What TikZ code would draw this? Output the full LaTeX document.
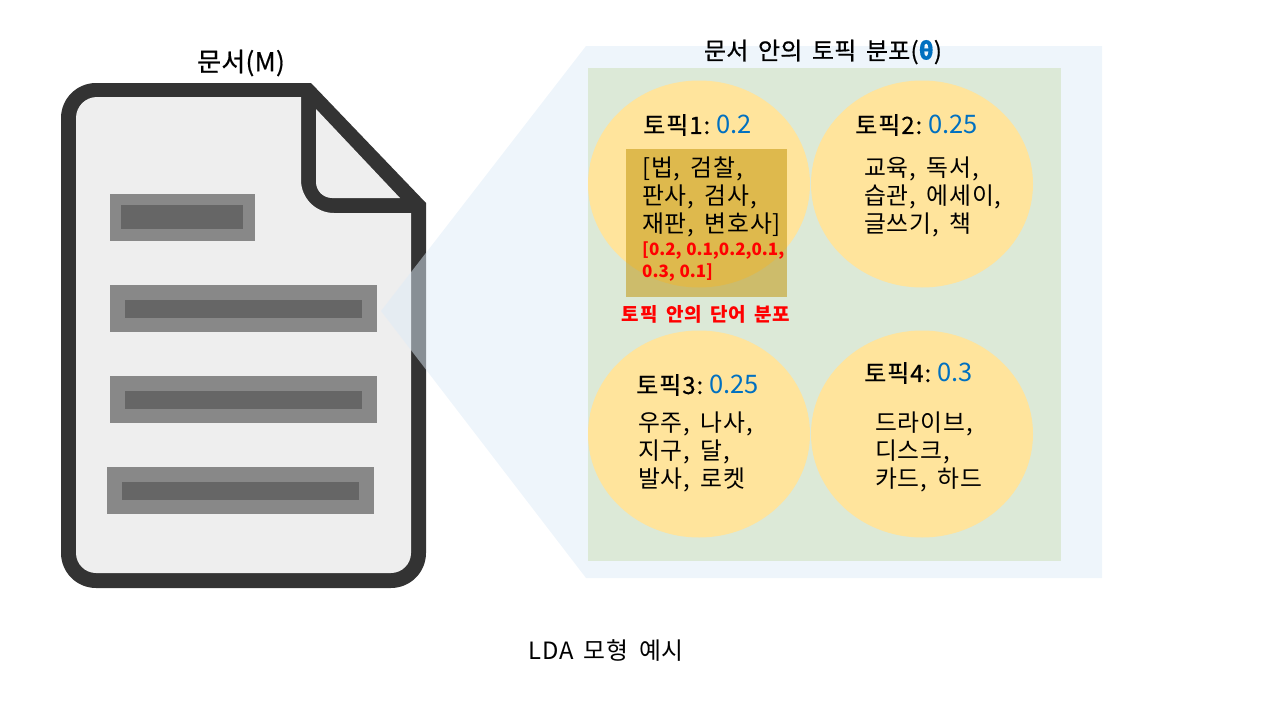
\documentclass[tikz,border=0pt]{standalone}
\usepackage{fontspec}
\setmainfont[WordSpace=1.7,LetterSpace=3.5]{Noto Sans CJK KR}
\newfontfamily\semi[FakeBold=0.5,WordSpace=1.7,LetterSpace=1]{Noto Sans CJK KR}
\newfontfamily\headfont[FakeBold=0.5,LetterSpace=4]{Noto Sans CJK KR}
\newfontfamily\plainfont{Noto Sans CJK KR}
\newfontfamily\redfont[WordSpace=1.2]{Noto Sans CJK KR}
\definecolor{docdark}{HTML}{333333}
\definecolor{docpage}{HTML}{EEEEEE}
\definecolor{barout}{HTML}{888888}
\definecolor{barin}{HTML}{666666}
\definecolor{zoomblue}{HTML}{DEEBF7}
\definecolor{panelgreen}{HTML}{DCE9D7}
\definecolor{topicyellow}{HTML}{FFE49C}
\definecolor{wordgold}{HTML}{BF9000}
\definecolor{valblue}{HTML}{0070C0}
\tikzset{
  txt/.style={inner sep=0pt,anchor=west,align=left,text=black},
  words/.style={txt,font=\fontsize{23.8}{28}\selectfont},
  head/.style={txt,font=\headfont\fontsize{24}{28}\selectfont},
  barO/.style={fill=barout,draw=none},
  barI/.style={fill=barin,draw=none},
  topic/.style={fill=topicyellow,draw=none},
}
\newcommand{\val}[1]{\hspace{6pt}{\plainfont\fontsize{25.5}{28}\selectfont\color{valblue}#1}}
\begin{document}
\begin{tikzpicture}[x=1pt,y=-1pt]
\useasboundingbox (0,0) rectangle (1280,720);
% document icon
\fill[docdark] (61,118) .. controls (61,98.7) and (76.7,83) .. (96,83) -- (311,83) -- (426,203) -- (426,553) .. controls (426,572.3) and (410.3,588) .. (391,588) -- (96,588) .. controls (76.7,588) and (61,572.3) .. (61,553) -- cycle;
\fill[docpage] (76,118) .. controls (76,106.4) and (85.4,97) .. (97,97) -- (301,97) -- (301,180) .. controls (301,198.2) and (315.8,213) .. (334,213) -- (411,213) -- (411,553) .. controls (411,564) and (402,573) .. (391,573) -- (96,573) .. controls (85,573) and (76,564) .. (76,553) -- cycle;
\fill[docpage] (316,109) -- (400,198) -- (332,198) .. controls (323.2,198) and (316,190.8) .. (316,182) -- cycle;
\fill[barO] (110,194) rectangle (255,241);
\fill[barI] (121,205) rectangle (243,229);
\fill[barO] (110,285) rectangle (377,332);
\fill[barI] (125,300) rectangle (362,318);
\fill[barO] (110,376) rectangle (377,423);
\fill[barI] (125,391) rectangle (362,409);
\fill[barO] (107,467) rectangle (374,514);
\fill[barI] (122,482) rectangle (359,500);
% zoom panel
\fill[zoomblue,opacity=0.5] (381,311) -- (586,46) -- (1102,46) -- (1102,578) -- (586,578) -- cycle;
\fill[panelgreen] (588,68) rectangle (1061,561);
\fill[topic] (699,184) ellipse[x radius=111,y radius=103.5];
\fill[topic] (922,184) ellipse[x radius=111,y radius=103.5];
\fill[topic] (699,434) ellipse[x radius=111,y radius=103.5];
\fill[topic] (922,434) ellipse[x radius=111,y radius=103.5];
\fill[wordgold,opacity=0.5] (626,149) rectangle (787,297);
% texts
\node[txt,font=\semi\fontsize{26}{30}\selectfont,anchor=center] (docT) at (241,63) {문서(M)};
\node[txt,font=\semi\fontsize{24}{28}\selectfont,anchor=center] (distT) at (823,52) {문서 안의 토픽 분포({\bfseries\color{valblue}θ})};
\node[head] (t1) at (643,125) {토픽1:\val{0.2}};
\node[head] (t2) at (855,125) {토픽2:\val{0.25}};
\node[head] (t3) at (636,385) {토픽3:\val{0.25}};
\node[head] (t4) at (864,373) {토픽4:\val{0.3}};
\node[words] (w1) at (642,197) {[법, 검찰,\\판사, 검사,\\재판, 변호사]};
\node[words] (w2) at (864,197) {교육, 독서,\\습관, 에세이,\\글쓰기, 책};
\node[words] (w3) at (638,452) {우주, 나사,\\지구, 달,\\발사, 로켓};
\node[words] (w4) at (875,452) {드라이브,\\디스크,\\카드, 하드};
\node[txt,text=red,font=\redfont\bfseries\fontsize{17}{22}\selectfont] (p1) at (642,262) {[0.2, 0.1,0.2,0.1,\\0.3, 0.1]};
\node[txt,text=red,font=\bfseries\fontsize{19}{22}\selectfont,anchor=center] (redT) at (706,314) {토픽 안의 단어 분포};
\node[txt,font=\fontsize{23.8}{28}\selectfont,anchor=center] (cap) at (606,650) {LDA 모형 예시};
\end{tikzpicture}
\end{document}
